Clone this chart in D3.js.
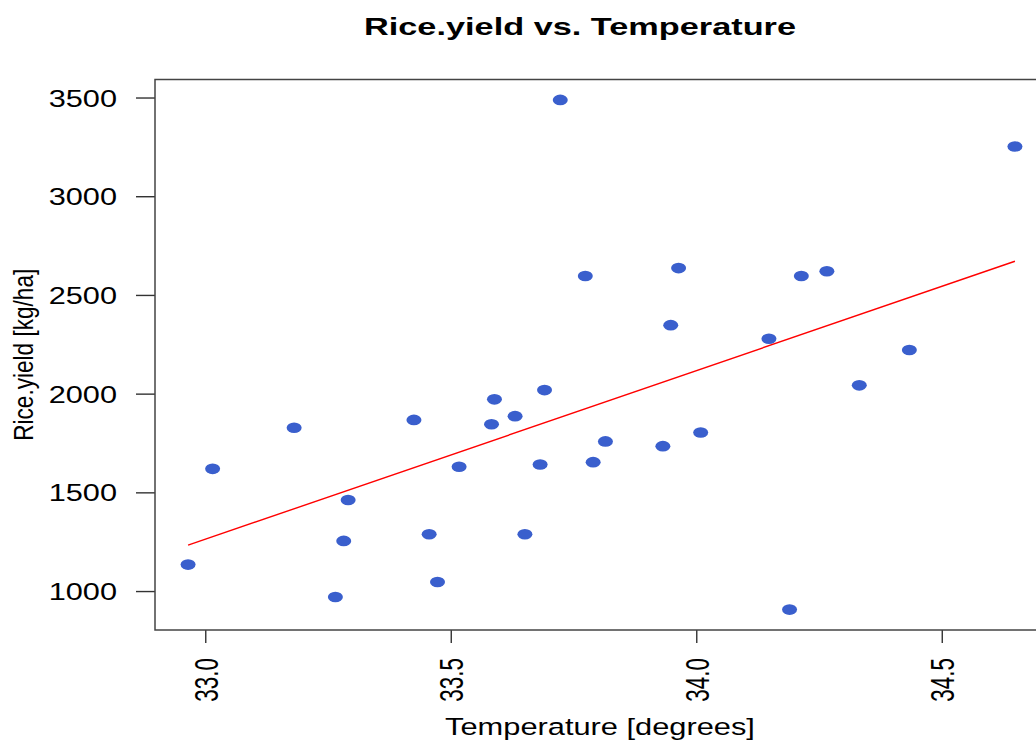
<!DOCTYPE html>
<html>
<head>
<meta charset="utf-8">
<script src="https://cdn.jsdelivr.net/npm/d3@7"></script>
<style>
  html, body { margin: 0; padding: 0; background: #fff; }
  svg text { font-family: "Liberation Sans", Arial, sans-serif; fill: #000; }
</style>
</head>
<body>
<div id="chart"></div>
<script>
// Temperature (degrees) and rice yield (kg/ha)
const temperature = [32.965, 33.015, 33.181, 33.425, 33.291, 33.282, 33.265, 33.456, 33.473, 33.517,
                     33.589, 33.691, 33.631, 33.583, 33.682, 33.815, 33.790, 33.932, 34.009, 33.651,
                     34.148, 34.434, 34.332, 34.190, 33.723, 33.774, 33.964, 33.948, 34.649, 34.214, 34.266];
const riceYield   = [1134, 1619, 1827, 1867, 1461, 1254, 970, 1288, 1046, 1630,
                     1971, 2018, 1886, 1845, 1641, 1758, 1653, 1734, 1803, 1288,
                     2278, 2221, 2042, 906, 3488, 2596, 2636, 2347, 3252, 2596, 2620];
const xTicks = [33.0, 33.5, 34.0, 34.5];
const yTicks = [1000, 1500, 2000, 2500, 3000, 3500];

const W = 1036, H = 740;
// plot box (right side runs past the edge of the picture)
const box = { left: 155, right: 1048, top: 79.5, bottom: 630 };

const data = temperature.map((t, i) => ({ t: t, y: riceYield[i] }));

const svg = d3.select("#chart").append("svg")
    .attr("width", W)
    .attr("height", H);

// R-style 4% expansion of the data range
function expand(ext) {
    const pad = (ext[1] - ext[0]) * 0.04;
    return [ext[0] - pad, ext[1] + pad];
}

const x = d3.scaleLinear()
    .domain(expand(d3.extent(temperature)))
    .range([box.left, box.right]);

const y = d3.scaleLinear()
    .domain(expand(d3.extent(riceYield)))
    .range([box.bottom, box.top]);

// Y axis
const yAxis = svg.append("g")
    .attr("transform", `translate(${box.left},0)`)
    .call(d3.axisLeft(y).tickValues(yTicks).tickSize(19).tickSizeOuter(0).tickFormat(d3.format("d")));
yAxis.select(".domain").remove();
yAxis.selectAll("line").attr("stroke", "#333").attr("stroke-width", 1.4);
yAxis.selectAll("text")
    .attr("x", -38 / 1.28)
    .attr("dy", "0.36em")
    .attr("transform", "scale(1.28,1)")
    .style("font-size", "24px")
    .attr("text-anchor", "end");

// X axis
const xAxis = svg.append("g")
    .attr("transform", `translate(0,${box.bottom})`)
    .call(d3.axisBottom(x).tickValues(xTicks).tickSize(13).tickSizeOuter(0).tickFormat(d3.format(".1f")));
xAxis.select(".domain").remove();
xAxis.selectAll("line").attr("stroke", "#333").attr("stroke-width", 1.4);
xAxis.selectAll("text")
    .attr("x", 0)
    .attr("y", 0)
    .attr("dy", "0.36em")
    .attr("transform", "translate(0,28) scale(1.5,1) rotate(-90)")
    .attr("text-anchor", "end")
    .style("font-size", "22.5px");

// Plot box
svg.append("rect")
    .attr("x", box.left)
    .attr("y", box.top)
    .attr("width", box.right - box.left)
    .attr("height", box.bottom - box.top)
    .attr("fill", "none")
    .attr("stroke", "#444")
    .attr("stroke-width", 1.5);

// Points
svg.append("g").selectAll("ellipse")
    .data(data)
    .enter()
    .append("ellipse")
    .attr("cx", d => x(d.t))
    .attr("cy", d => y(d.y))
    .attr("rx", 7.5)
    .attr("ry", 5.3)
    .attr("fill", "#3a5fcd");

// Least-squares fit, drawn over the range of the data
const mt = d3.mean(temperature), my = d3.mean(riceYield);
const slope = d3.sum(data, d => (d.t - mt) * (d.y - my)) / d3.sum(data, d => (d.t - mt) * (d.t - mt));
const icept = my - slope * mt;
const ext = d3.extent(temperature);
svg.append("path")
    .datum(ext.map(t => ({ t: t, y: icept + slope * t })))
    .attr("fill", "none")
    .attr("stroke", "#ff0000")
    .attr("stroke-width", 1.4)
    .attr("d", d3.line().x(d => x(d.t)).y(d => y(d.y)));

// Title
const cx = (box.left + box.right) / 2;
svg.append("text")
    .attr("transform", "translate(580,34.5) scale(1.4,1)")
    .attr("text-anchor", "middle")
    .style("font-size", "24.5px")
    .style("font-weight", "bold")
    .text("Rice.yield vs. Temperature");

// Axis titles
svg.append("text")
    .attr("transform", `translate(600,735) scale(1.3,1)`)
    .attr("text-anchor", "middle")
    .style("font-size", "23.7px")
    .text("Temperature [degrees]");

svg.append("text")
    .attr("transform", `translate(32.6,${(box.top + box.bottom) / 2}) scale(1.2,1) rotate(-90)`)
    .attr("text-anchor", "middle")
    .style("font-size", "22.6px")
    .text("Rice.yield [kg/ha]");
</script>
</body>
</html>
